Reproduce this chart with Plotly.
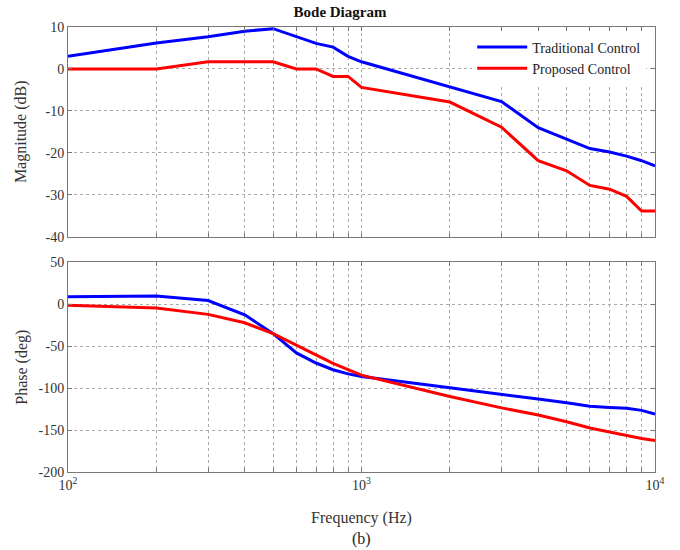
import plotly.graph_objects as go
from plotly.subplots import make_subplots

freq = [100, 200, 300, 400, 500, 600, 700, 800, 900, 1000,
        2000, 3000, 4000, 5000, 6000, 7000, 8000, 9000, 10000]
mag_traditional = [3.0, 6.2, 7.7, 9.0, 9.6, 7.8, 6.1, 5.2, 3.0, 1.7,
                   -4.4, -7.8, -14.0, -16.8, -19.0, -19.8, -20.8, -21.9, -23.1]
mag_proposed = [0.0, 0.0, 1.7, 1.7, 1.7, 0.0, 0.0, -1.8, -1.8, -4.4,
                -7.9, -13.9, -21.9, -24.3, -27.8, -28.7, -30.4, -33.9, -33.9]
phase_traditional = [9, 10, 4.5, -12.5, -35, -58, -70, -78, -83, -86,
                     -99.5, -107, -113, -117.5, -121.5, -123, -124, -126.5, -131]
phase_proposed = [-1, -4.5, -12, -22, -35, -49, -61, -70.5, -78, -84.5,
                  -110, -123.5, -132, -140, -147.5, -152.5, -156.5, -160, -162.5]

grid_ticks = [100, 200, 300, 400, 500, 600, 700, 800, 900,
              1000, 2000, 3000, 4000, 5000, 6000, 7000, 8000, 9000, 10000]
grid_text = ["10<sup>2</sup>"] + [""] * 8 + ["10<sup>3</sup>"] + [""] * 8 + ["10<sup>4</sup>"]
mag_ticks = [10, 0, -10, -20, -30, -40]
mag_tick_text = ["10", "0", "-10", "-20", "-30", "-40"]
phase_ticks = [50, 0, -50, -100, -150, -200]
phase_tick_text = ["50", "0", "-50", "-100", "-150", "-200"]

BLUE = "rgb(0,0,255)"
RED = "rgb(255,0,0)"
FONT = "Liberation Serif"

fig = make_subplots(rows=2, cols=1, vertical_spacing=0.058)

fig.add_trace(go.Scatter(x=freq, y=mag_traditional, mode="lines", name="Traditional Control",
                         line=dict(color=BLUE, width=3)), row=1, col=1)
fig.add_trace(go.Scatter(x=freq, y=mag_proposed, mode="lines", name="Proposed Control",
                         line=dict(color=RED, width=3)), row=1, col=1)
fig.add_trace(go.Scatter(x=freq, y=phase_traditional, mode="lines", showlegend=False,
                         line=dict(color=BLUE, width=3)), row=2, col=1)
fig.add_trace(go.Scatter(x=freq, y=phase_proposed, mode="lines", showlegend=False,
                         line=dict(color=RED, width=3)), row=2, col=1)

axis_common = dict(showline=True, linecolor="#777", linewidth=1, mirror="allticks",
                   showgrid=True, gridcolor="#aaa", griddash="dot", gridwidth=1,
                   ticks="inside", ticklen=4, tickcolor="#777", zeroline=False,
                   automargin=False,
                   tickfont=dict(family=FONT, size=14, color="#333"))

fig.update_xaxes(type="log", range=[2, 4], tickvals=grid_ticks, ticktext=grid_text, **axis_common)
fig.update_xaxes(showticklabels=False, row=1, col=1)
fig.update_xaxes(title=dict(text="Frequency (Hz)", font=dict(family=FONT, size=16, color="#333"),
                            standoff=20), row=2, col=1)
fig.update_yaxes(range=[-40, 10], tickvals=mag_ticks, ticktext=mag_tick_text,
                 **axis_common, row=1, col=1)
fig.update_yaxes(range=[-200, 50], tickvals=phase_ticks, ticktext=phase_tick_text,
                 **axis_common, row=2, col=1)
fig.update_yaxes(title=dict(text="Magnitude (dB)", font=dict(family=FONT, size=16, color="#333"),
                            standoff=14), row=1, col=1)
fig.update_yaxes(title=dict(text="Phase (deg)", font=dict(family=FONT, size=16, color="#333"),
                            standoff=6), row=2, col=1)

fig.update_layout(
    width=680, height=550,
    margin=dict(l=68, r=25, t=27, b=78),
    paper_bgcolor="white", plot_bgcolor="white",
    title=dict(text="<b>Bode Diagram</b>", x=0.5, xanchor="center", y=0.978, yanchor="middle",
               font=dict(family=FONT, size=15, color="#111")),
    legend=dict(x=0.985, y=0.99, xanchor="right", yanchor="top", bgcolor="white",
                font=dict(family=FONT, size=14, color="#222"), itemwidth=50, tracegroupgap=4),
    annotations=[dict(text="(b)", xref="paper", yref="paper", x=0.5, y=-0.151,
                      xanchor="center", yanchor="middle", showarrow=False,
                      font=dict(family=FONT, size=16, color="#222"))],
    showlegend=True,
)

fig.write_html("out.html", config={"displayModeBar": False},
               post_script="document.body.style.margin='0';")
